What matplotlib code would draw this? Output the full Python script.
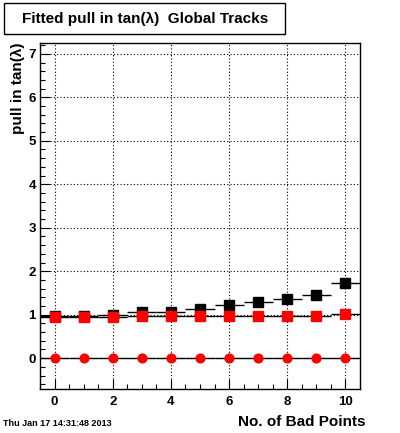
import matplotlib
matplotlib.use('Agg')
import matplotlib.pyplot as plt
from matplotlib.patches import Rectangle
from matplotlib.ticker import MultipleLocator

plt.rcParams['font.family'] = ['Liberation Sans', 'DejaVu Sans']
plt.rcParams['font.weight'] = 'bold'

# number of bad points (bin centres)
n_bad = [0, 1, 2, 3, 4, 5, 6, 7, 8, 9, 10]
# fitted pull width, black squares
pull_black = [0.96, 0.97, 1.00, 1.05, 1.07, 1.14, 1.22, 1.29, 1.35, 1.45, 1.72]
# fitted pull width, red squares
pull_red = [0.94, 0.94, 0.94, 0.96, 0.96, 0.96, 0.98, 0.98, 0.98, 0.98, 1.01]
# fitted pull mean, red circles
pull_mean = [0, 0, 0, 0, 0, 0, 0, 0, 0, 0, 0]

fig = plt.figure(figsize=(4, 4.33), dpi=100)
ax = fig.add_axes([40 / 400, 1 - 389 / 433, 320 / 400, 346 / 433])

ax.errorbar(n_bad, pull_mean, xerr=0.5, fmt='o', ms=6.3, mfc='red', mec='red',
            ecolor='black', elinewidth=1, capsize=0, zorder=3)
ax.errorbar(n_bad, pull_black, xerr=0.5, fmt='s', ms=6.5, mfc='black', mec='black',
            ecolor='black', elinewidth=1, capsize=0, zorder=3)
ax.errorbar(n_bad, pull_red, xerr=0.5, fmt='s', ms=7, mfc='red', mec='red',
            ecolor='black', elinewidth=1, capsize=0, zorder=4)

ax.set_xlim(-0.5, 10.5)
ax.set_ylim(-0.71, 7.25)
ax.xaxis.set_major_locator(MultipleLocator(2))
ax.xaxis.set_minor_locator(MultipleLocator(0.5))
ax.yaxis.set_major_locator(MultipleLocator(1))
ax.yaxis.set_minor_locator(MultipleLocator(0.2))
ax.tick_params(which='both', direction='in', top=False, right=False, width=0.8)
ax.tick_params(which='major', length=7, labelsize=9.5)
ax.tick_params(which='minor', length=3.5)
ax.tick_params(axis='x', pad=5)
ax.tick_params(axis='y', pad=3)
ax.grid(True, which='major', color='black', linestyle=(0, (1, 2)), linewidth=0.8)
ax.set_axisbelow(True)
for s in ax.spines.values():
    s.set_linewidth(1)

fig.text(365 / 400, 1 - 422 / 433, 'No. of Bad Points', ha='right', va='center',
         fontsize=11)
fig.text(17.5 / 400, 1 - 43 / 433, 'pull in tan(λ)', rotation=90, ha='center',
         va='top', fontsize=11)
fig.text(3 / 400, 1 - 424 / 433, 'Thu Jan 17 14:31:48 2013', ha='left', va='center',
         fontsize=6.5)

fig.patches.append(Rectangle((4 / 400, 1 - 34 / 433), 281 / 400, 31 / 433,
                             transform=fig.transFigure, fill=False,
                             edgecolor='black', linewidth=1))
fig.text(145 / 400, 1 - 18.5 / 433, 'Fitted pull in tan(λ)  Global Tracks',
         ha='center', va='center', fontsize=11)

fig.savefig('out.png', dpi=100)
